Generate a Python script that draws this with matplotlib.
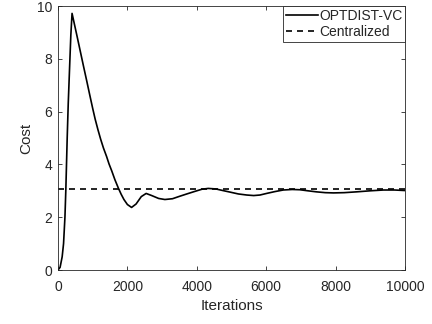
import matplotlib
matplotlib.use("Agg")
import matplotlib.pyplot as plt

# values
iterations = [0, 60, 120, 160, 200, 225, 245, 265, 295, 335, 370, 405,
              550, 730, 830, 920, 1000, 1070, 1150, 1230, 1310, 1400, 1470,
              1550, 1640, 1740, 1820, 1900, 2000, 2120,
              2250, 2400, 2540, 2700, 2900, 3080, 3300, 3500, 3710, 3950,
              4150, 4330, 4550, 4750, 4960, 5200, 5440, 5640, 5820, 6010,
              6250, 6490, 6750, 6970, 7200, 7450, 7700, 7940, 8250, 8600,
              9000, 9380, 9700, 10000]
cost = [0.0, 0.1, 0.5, 1.0, 2.0, 3.0, 4.0, 5.0, 6.3, 7.7, 8.9, 9.72,
        8.85, 7.75, 7.15, 6.6, 6.12, 5.72, 5.32, 4.95, 4.62, 4.3, 4.02,
        3.75, 3.42, 3.1, 2.87, 2.67, 2.48, 2.37,
        2.5, 2.78, 2.90, 2.82, 2.71, 2.67, 2.70, 2.79, 2.88, 2.98,
        3.06, 3.09, 3.07, 3.01, 2.95, 2.88, 2.84, 2.82, 2.84, 2.90,
        2.97, 3.03, 3.05, 3.04, 3.00, 2.96, 2.93, 2.92, 2.93, 2.96,
        3.00, 3.03, 3.03, 3.01]
centralized_cost = 3.06

x_ticks = [0, 2000, 4000, 6000, 8000, 10000]
y_ticks = [0, 2, 4, 6, 8, 10]

grey = "#262626"
plt.rcParams["font.family"] = ["Liberation Sans", "DejaVu Sans"]

fig = plt.figure(figsize=(4.32, 3.24), dpi=100)
ax = fig.add_axes([58 / 432, 54 / 324, 347 / 432, 264 / 324])

ax.plot(iterations, cost, color="black", linewidth=1.2, label="OPTDIST-VC")
ax.plot([0, 10000], [centralized_cost, centralized_cost], color="black",
        linewidth=1.2, dashes=(3.6, 3.0), label="Centralized")

ax.set_xlim(0, 10000)
ax.set_ylim(0, 10)
ax.set_xticks(x_ticks)
ax.set_yticks(y_ticks)
ax.tick_params(direction="in", length=3, width=0.6, colors=grey,
               labelsize=10, top=True, right=True)
ax.tick_params(axis="x", pad=7)
ax.tick_params(axis="y", pad=4)
for s in ax.spines.values():
    s.set_color(grey)
    s.set_linewidth(0.6)

ax.set_xlabel("Iterations", fontsize=11, color=grey, labelpad=4)
ax.set_ylabel("Cost", fontsize=11, color=grey, labelpad=3)

leg = ax.legend(loc="upper right", fontsize=10, frameon=True, fancybox=False,
                borderaxespad=0, borderpad=0.2, handlelength=2.3,
                handletextpad=0.1, labelspacing=0.15, framealpha=1)
leg.get_frame().set_edgecolor(grey)
leg.get_frame().set_linewidth(0.6)
for t in leg.get_texts():
    t.set_color(grey)

fig.savefig("out.png", dpi=100)
